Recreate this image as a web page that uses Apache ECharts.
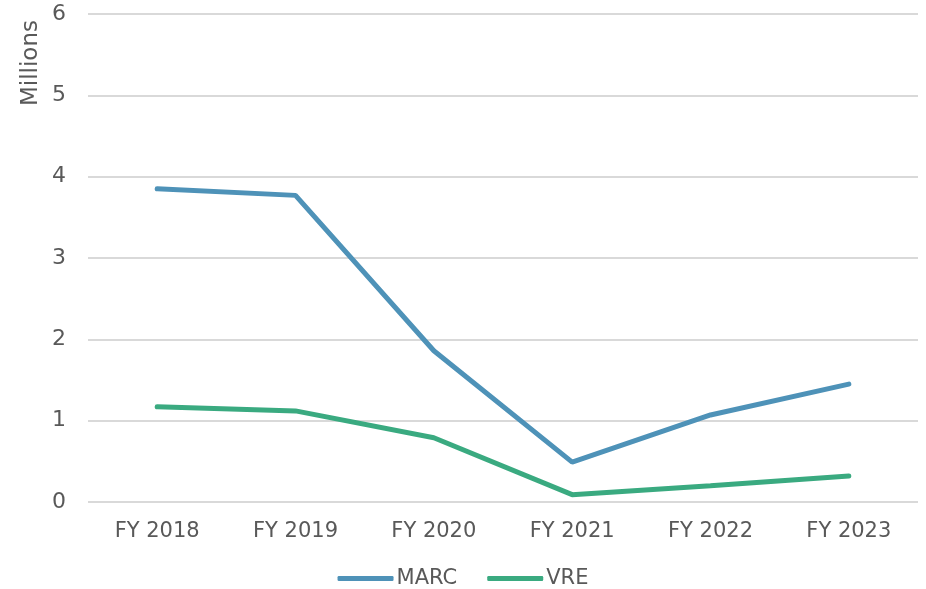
<!DOCTYPE html>
<html><head><meta charset="utf-8">
<script src="https://cdn.jsdelivr.net/npm/echarts@6/dist/echarts.min.js"></script>
<style>html,body{margin:0;padding:0;background:#fff}#c{width:926px;height:589px}</style>
</head><body><div id="c"></div>
<script>
const categories = ['FY 2018','FY 2019','FY 2020','FY 2021','FY 2022','FY 2023'];
const marc = [3.85, 3.77, 1.86, 0.49, 1.07, 1.45];
const vre = [1.17, 1.12, 0.79, 0.09, 0.20, 0.32];
const unitLabel = 'Millions';
const chart = echarts.init(document.getElementById('c'));
const txt = '#595959';
const font = '"DejaVu Sans", sans-serif';
chart.setOption({
  animation:false,
  grid:{left:88,right:8,top:14,bottom:87,containLabel:false,outerBoundsMode:'none'},
  legend:{top:563,left:'center',itemWidth:56,itemHeight:5,itemGap:30,icon:'roundRect',
    textStyle:{color:txt,fontSize:21,fontFamily:font,padding:[0,0,0,-2]},
    data:['MARC','VRE']},
  graphic:[{type:'text',left:20,top:20,rotation:Math.PI/2,
    style:{text:unitLabel,fill:txt,font:'23px "DejaVu Sans", sans-serif'}}],
  xAxis:{type:'category',data:categories,boundaryGap:true,
    axisLine:{show:false},axisTick:{show:false},
    axisLabel:{color:txt,fontSize:21,fontFamily:font,margin:19}},
  yAxis:{type:'value',min:0,max:6,interval:1,
    axisLabel:{color:txt,fontSize:22,fontFamily:font,margin:22},
    splitLine:{lineStyle:{color:'#d9d9d9',width:2}}},
  series:[
    {name:'MARC',type:'line',data:marc,symbol:'none',lineStyle:{color:'#4e92b8',width:5,cap:'round'},itemStyle:{color:'#4e92b8'}},
    {name:'VRE',type:'line',data:vre,symbol:'none',lineStyle:{color:'#3aaa80',width:5,cap:'round'},itemStyle:{color:'#3aaa80'}}
  ]
});
</script></body></html>
